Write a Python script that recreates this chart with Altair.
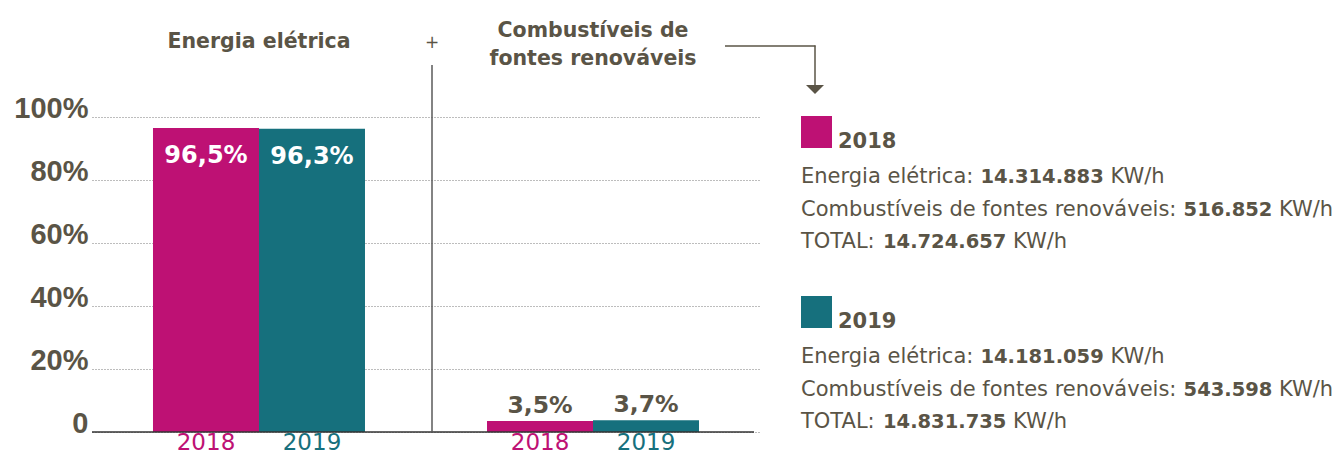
import altair as alt
import pandas as pd

# ---------------- data ----------------
groups = ["Energia elétrica", "Combustíveis de fontes renováveis"]
years = ["2018", "2019"]
pct_2018 = [96.5, 3.5]
pct_2019 = [96.3, 3.7]
y_ticks = [0, 20, 40, 60, 80, 100]

title_lines = {"Energia elétrica": ["Energia elétrica"],
               "Combustíveis de fontes renováveis": ["Combustíveis de", "fontes renováveis"]}

legend_years = ["2018", "2019"]
row_prefixes = ["Energia elétrica: ", "Combustíveis de fontes renováveis: ", "TOTAL: "]
elec_kwh = ["14.314.883", "14.181.059"]
comb_kwh = ["516.852", "543.598"]
total_kwh = ["14.724.657", "14.831.735"]
unit = "KW/h"

# ---------------- styles ----------------
MAG = "#BE1174"
TEAL = "#16707D"
INK = "#5A5446"
FONT = "DejaVu Sans"
W, H = 662, 315

rows = []
for g, a, b in zip(groups, pct_2018, pct_2019):
    for yr, v in zip(years, [a, b]):
        rows.append({"group": g, "year": yr, "pct": v,
                     "label": f"{v:.1f}".replace(".", ",") + "%"})
df = pd.DataFrame(rows)

color_scale = alt.Scale(domain=years, range=[MAG, TEAL])
x_enc = alt.X("group:N", axis=None,
              scale=alt.Scale(domain=groups, range=[0, 668],
                              paddingInner=0.3653, paddingOuter=0.1826))
xo_enc = alt.XOffset("year:N", scale=alt.Scale(domain=years, paddingInner=0, paddingOuter=0))
y_enc = alt.Y("pct:Q", title=None,
              scale=alt.Scale(domain=[0, 100], nice=False),
              axis=alt.Axis(values=y_ticks,
                            labelExpr="datum.value == 0 ? '0' : datum.value + '%'",
                            labelFont="Liberation Sans", labelFontSize=29,
                            labelFontWeight="bold", labelColor=INK,
                            labelBaseline="alphabetic", labelPadding=4,
                            ticks=False, tickSize=0, domain=False,
                            grid=True, gridDash=[1, 2], gridColor="#7a7a7a",
                            gridWidth=1))

base = alt.Chart(df)

bars = base.mark_bar().encode(
    x=x_enc, xOffset=xo_enc, y=y_enc,
    color=alt.Color("year:N", scale=color_scale, legend=None))

big_labels = base.transform_filter(alt.datum.group == groups[0]).mark_text(
    font=FONT, fontSize=24, fontWeight="bold", color="white",
    baseline="alphabetic", dy=35).encode(
    x=x_enc, xOffset=xo_enc, y="pct:Q", text="label:N")

small_labels = base.transform_filter(alt.datum.group == groups[1]).mark_text(
    font=FONT, fontSize=23.5, fontWeight="bold", color=INK,
    baseline="alphabetic", dy=-8).encode(
    x=x_enc, xOffset=xo_enc, y="pct:Q", text="label:N")

year_labels = base.mark_text(font=FONT, fontSize=23, baseline="alphabetic").encode(
    x=x_enc, xOffset=xo_enc, y=alt.value(333), text="year:N",
    color=alt.Color("year:N", scale=color_scale, legend=None))

one = alt.Data(values=[{"k": 0}])

baseline = alt.Chart(one).mark_rule(color="#333333", strokeWidth=1.5).encode(
    y=alt.datum(0), x=alt.value(0), x2=alt.value(W))

divider = alt.Chart(one).mark_rule(color="#5a5a5a", strokeWidth=1.5).encode(
    x=alt.value(340), y=alt.value(-52), y2=alt.value(H))

plus = alt.Chart(one).mark_text(text="+", font=FONT, fontSize=17, color=INK,
                                baseline="middle").encode(
    x=alt.value(340), y=alt.value(-74))

layers = [bars, baseline, divider, big_labels, small_labels, year_labels, plus]

# group titles
title_y = {groups[0]: [-69], groups[1]: [-80, -52]}
for g in groups:
    for line, yy in zip(title_lines[g], title_y[g]):
        layers.append(
            alt.Chart(pd.DataFrame({"group": [g], "t": [line]})).mark_text(
                font=FONT, fontSize=20.5, fontWeight="bold", color=INK,
                baseline="alphabetic").encode(x=x_enc, y=alt.value(yy), text="t:N"))

# connector arrow
layers.append(alt.Chart(one).mark_rule(color=INK, strokeWidth=1.5).encode(
    x=alt.value(633), x2=alt.value(723.5), y=alt.value(-71)))
layers.append(alt.Chart(one).mark_rule(color=INK, strokeWidth=1.5).encode(
    x=alt.value(723), y=alt.value(-71.5), y2=alt.value(-30)))
layers.append(alt.Chart(one).mark_point(
    shape="M-1,-0.5L1,-0.5L0,0.5Z", size=324, filled=True, color=INK, opacity=1).encode(
    x=alt.value(723), y=alt.value(-27.5)))

# legend panel
values_by_row = [elec_kwh, comb_kwh, total_kwh]
row_base = [66, 98.5, 131]
num_x = [888.4, 1091.6, 791]
unit_x = [1018.5, 1187, 921]
for i, yr in enumerate(legend_years):
    off = 180 * i
    layers.append(alt.Chart(pd.DataFrame({"year": [yr]})).mark_rect().encode(
        x=alt.value(709), x2=alt.value(740), y=alt.value(-1 + off), y2=alt.value(31 + off),
        color=alt.Color("year:N", scale=color_scale, legend=None)))
    layers.append(alt.Chart(pd.DataFrame({"t": [yr]})).mark_text(
        font=FONT, fontSize=21, fontWeight="bold", color=INK, align="left",
        baseline="alphabetic").encode(x=alt.value(746), y=alt.value(31 + off), text="t:N"))
    for j in range(3):
        yy = row_base[j] + off
        layers.append(alt.Chart(pd.DataFrame({"t": [row_prefixes[j]]})).mark_text(
            font=FONT, fontSize=21, color=INK, align="left", baseline="alphabetic").encode(
            x=alt.value(709), y=alt.value(yy), text="t:N"))
        layers.append(alt.Chart(pd.DataFrame({"t": [values_by_row[j][i]]})).mark_text(
            font=FONT, fontSize=19.5, fontWeight="bold", color=INK, align="left",
            baseline="alphabetic").encode(
            x=alt.value(num_x[j]), y=alt.value(yy), text="t:N"))
        layers.append(alt.Chart(pd.DataFrame({"t": [unit]})).mark_text(
            font=FONT, fontSize=21, color=INK, align="left", baseline="alphabetic").encode(
            x=alt.value(unit_x[j]), y=alt.value(yy), text="t:N"))

chart = alt.layer(*layers).properties(
    width=W, height=H,
    background="white",
    autosize=alt.AutoSizeParams(type="none"),
    padding={"left": 84, "top": 109, "right": 580, "bottom": 25},
).configure_view(stroke=None)

chart.save("out.html", embed_options={"renderer": "svg", "actions": False})
